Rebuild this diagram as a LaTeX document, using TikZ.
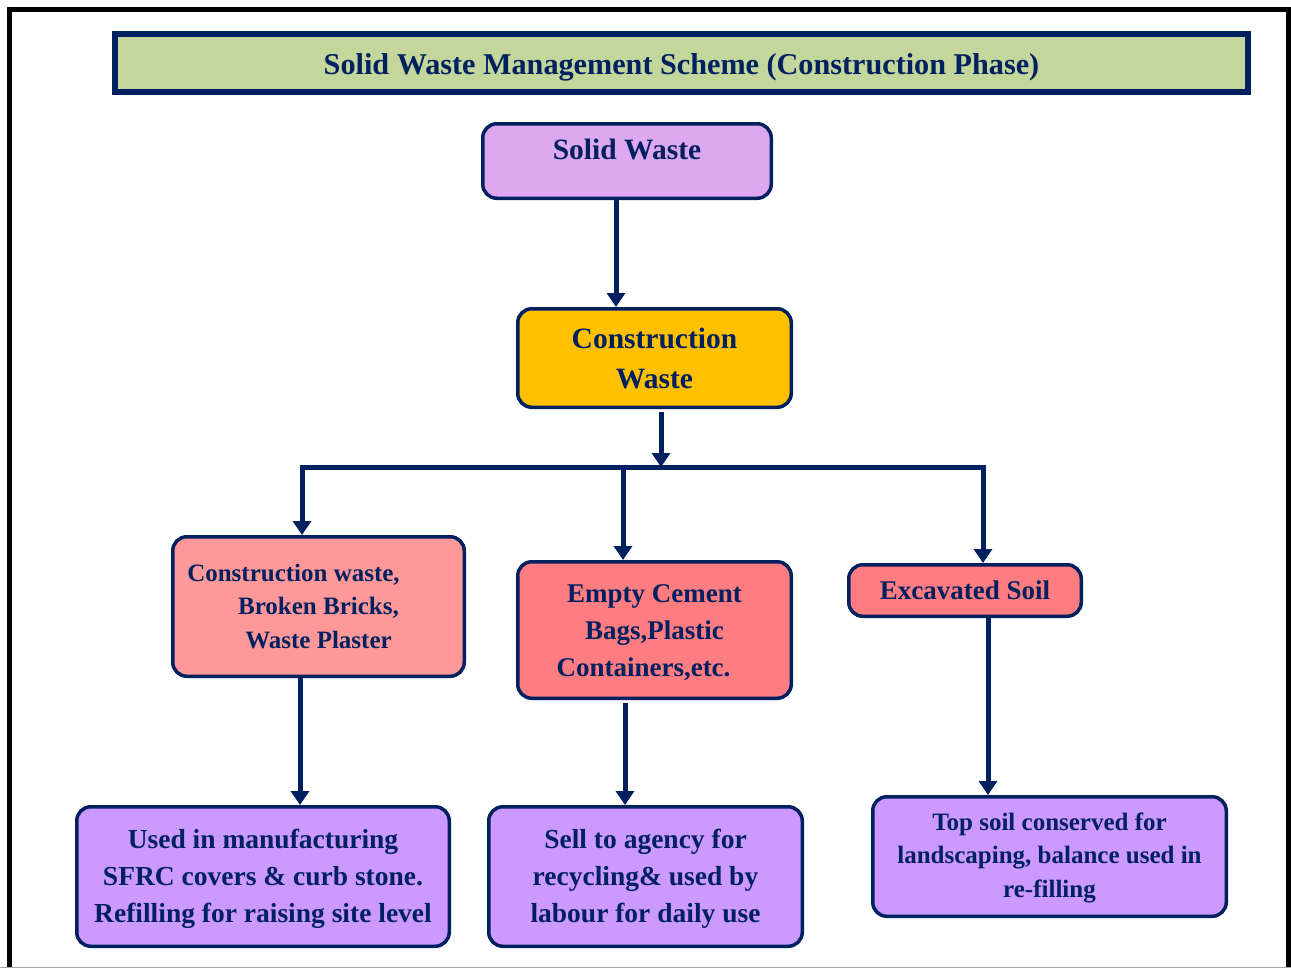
\documentclass[tikz,border=0pt]{standalone}
\usepackage{fontspec}
\setmainfont{Liberation Serif}
\usetikzlibrary{arrows.meta}
\definecolor{navy}{HTML}{002060}
\definecolor{titlegreen}{HTML}{C3D69B}
\definecolor{lilac}{HTML}{DDA8F0}
\definecolor{amber}{HTML}{FFC000}
\definecolor{salmon}{HTML}{FF9999}
\definecolor{coral}{HTML}{FF7C80}
\definecolor{violet}{HTML}{CC99FF}
\tikzset{
  box/.style={draw=navy, line width=3.5pt, rounded corners=14pt, inner sep=0pt,
    align=center, text=navy, font=\bfseries},
  conn/.style={draw=navy, line width=5pt},
  arr/.style={conn, -{Triangle[width=18pt,length=14pt]}},
}
\begin{document}
\begin{tikzpicture}[x=1pt,y=-1pt]
\useasboundingbox (0,0) rectangle (1291,970);
% outer frame
\draw[black, line width=5.5pt] (9.5,968) -- (9.5,9.5) -- (1288.5,9.5) -- (1288.5,968);
\draw[gray!70, line width=1pt] (0,967.5) -- (1291,967.5);
% title
\node[draw=navy, line width=6pt, fill=titlegreen, minimum width=1133pt, minimum height=58pt,
  inner sep=0pt, text=navy, font=\fontsize{30.2}{34}\selectfont\bfseries,
  text height=25pt, text depth=2pt]
  (title) at (681.5,63) {Solid Waste Management Scheme (Construction Phase)};
% nodes
\node[box, fill=lilac, minimum width=288.5pt, minimum height=74.5pt,
  font=\fontsize{29.5}{34}\selectfont\bfseries, text height=20pt, text depth=23pt]
  (sw) at (627,161) {Solid Waste};
\node[box, fill=amber, minimum width=273.5pt, minimum height=98.5pt,
  font=\fontsize{29.5}{40}\selectfont\bfseries]
  (cw) at (654.5,358) {Construction\\Waste};
\node[box, fill=salmon, minimum width=291.5pt, minimum height=139.5pt,
  font=\fontsize{25}{33.5}\selectfont\bfseries]
  (b1) at (318.5,606.5) {Construction waste,\hspace*{50pt}\\Broken Bricks,\\Waste Plaster};
\node[box, fill=coral, minimum width=273.5pt, minimum height=136.5pt,
  font=\fontsize{27}{37}\selectfont\bfseries]
  (b2) at (654.5,630) {\rule{0pt}{23pt}Empty Cement\\Bags,Plastic\\Containers,etc.\hspace*{22pt}};
\node[box, fill=coral, minimum width=232.5pt, minimum height=51.5pt,
  font=\fontsize{27}{37}\selectfont\bfseries]
  (b3) at (965,590.5) {Excavated Soil};
\node[box, fill=violet, minimum width=372.5pt, minimum height=139.5pt,
  font=\fontsize{27.5}{37}\selectfont\bfseries]
  (b4) at (263,876.5) {\rule{0pt}{24pt}Used in manufacturing\\SFRC covers \& curb stone.\\Refilling for raising site level};
\node[box, fill=violet, minimum width=313.5pt, minimum height=139.5pt,
  font=\fontsize{27.5}{37}\selectfont\bfseries]
  (b5) at (645.5,876.5) {\rule{0pt}{24pt}Sell to agency for\\recycling\& used by\\labour for daily use};
\node[box, fill=violet, minimum width=353.5pt, minimum height=119.5pt,
  font=\fontsize{25}{33.5}\selectfont\bfseries]
  (b6) at (1049.5,856.5) {\rule{0pt}{20pt}Top soil conserved for\\landscaping, balance used in\\re-filling};
% connectors
\coordinate (bus) at (661,467);
\draw[arr] ([xshift=-11pt]sw.south) -- ([xshift=-11pt]sw.south |- cw.north);
\draw[arr] ([xshift=6.5pt,yshift=-3pt]cw.south) -- ([xshift=6.5pt]cw.south |- bus);
\draw[arr] (bus) -| ([xshift=-16.5pt]b1.north);
\draw[arr] (bus) -| ([xshift=18pt]b3.north);
\draw[arr] ([xshift=-31.5pt]b2.north |- bus) -- ([xshift=-31.5pt]b2.north);
\draw[arr] ([xshift=-18.5pt]b1.south) -- ([xshift=-18.5pt]b1.south |- b4.north);
\draw[arr] ([xshift=-29.5pt,yshift=-3pt]b2.south) -- ([xshift=-29.5pt]b2.south |- b5.north);
\draw[arr] ([xshift=23pt]b3.south) -- ([xshift=23pt]b3.south |- b6.north);
\end{tikzpicture}
\end{document}
